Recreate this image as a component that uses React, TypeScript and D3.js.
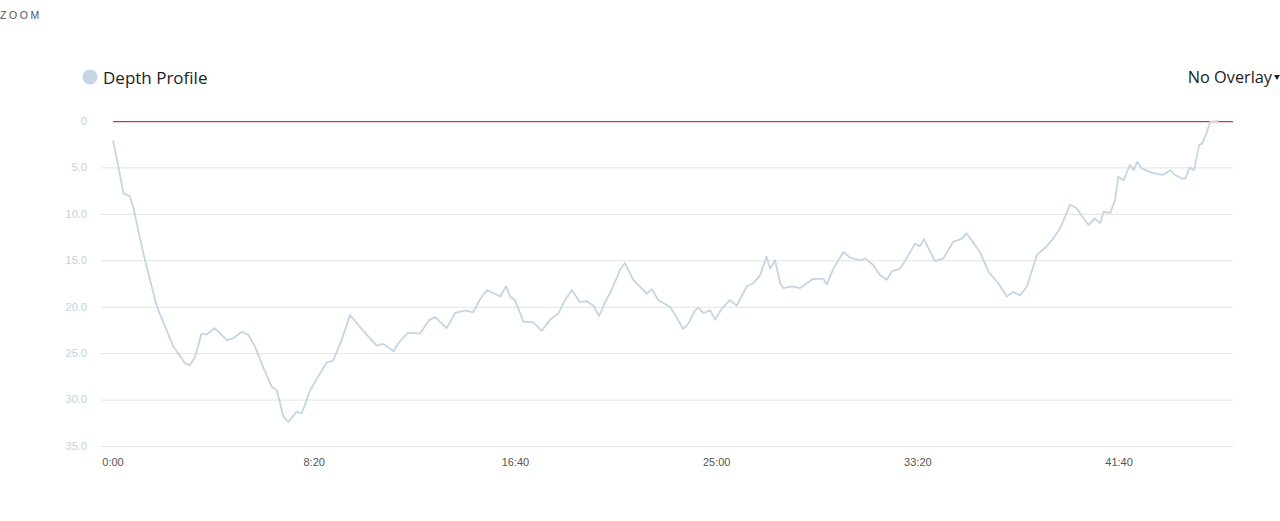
import React from "react";
import * as d3 from "d3";

// dive time in seconds
const times: number[] = [
  0, 11, 26, 42, 50, 75, 109, 150, 179, 191, 204, 220, 233, 253, 283, 299, 320, 336, 353, 373,
  394, 407, 423, 436, 456, 469, 490, 510, 531, 547, 568, 589, 622, 655, 672, 697, 713, 734, 763, 784,
  800, 829, 850, 875, 895, 912, 929, 962, 977, 987, 999, 1020, 1045, 1065, 1086, 1107, 1123, 1140, 1160, 1177,
  1194, 1208, 1223, 1239, 1260, 1272, 1293, 1326, 1339, 1355, 1384, 1401, 1417, 1430, 1446, 1455, 1467, 1484, 1496, 1513,
  1533, 1550, 1575, 1591, 1608, 1624, 1633, 1645, 1658, 1666, 1687, 1707, 1740, 1765, 1774, 1790, 1815, 1831, 1856, 1869,
  1889, 1906, 1923, 1935, 1956, 1976, 1993, 2005, 2015, 2026, 2043, 2063, 2088, 2109, 2121, 2138, 2155, 2175, 2200, 2221,
  2237, 2254, 2271, 2296, 2320, 2337, 2353, 2366, 2378, 2395, 2407, 2424, 2440, 2453, 2461, 2478, 2490, 2498, 2511, 2527,
  2536, 2545, 2556, 2577, 2594, 2610, 2627, 2639, 2656, 2664, 2676, 2686, 2699, 2707, 2718, 2726, 2747,
];

// depth in metres
const depths: number[] = [
  2.1, 4.4, 7.8, 8.1, 9.2, 14.2, 20.0, 24.3, 26.1, 26.3, 25.4, 22.9, 23.0, 22.3, 23.6, 23.4, 22.7, 23.0, 24.3, 26.5,
  28.6, 29.0, 31.8, 32.4, 31.3, 31.5, 29.0, 27.5, 26.0, 25.8, 23.6, 20.9, 22.6, 24.2, 24.0, 24.8, 23.7, 22.8, 22.9, 21.5,
  21.1, 22.3, 20.7, 20.4, 20.6, 19.2, 18.2, 18.9, 17.8, 18.9, 19.3, 21.6, 21.7, 22.6, 21.4, 20.7, 19.3, 18.2, 19.5, 19.4,
  19.9, 21.0, 19.5, 18.2, 16.0, 15.3, 17.1, 18.6, 18.1, 19.3, 20.0, 21.2, 22.4, 21.8, 20.4, 20.1, 20.7, 20.4, 21.4, 20.2,
  19.3, 19.9, 17.8, 17.5, 16.6, 14.6, 15.9, 15.0, 17.5, 18.0, 17.8, 18.0, 17.0, 17.0, 17.6, 15.9, 14.1, 14.7, 15.0, 14.8,
  15.5, 16.6, 17.1, 16.2, 15.9, 14.5, 13.2, 13.5, 12.7, 13.7, 15.1, 14.8, 13.0, 12.7, 12.1, 13.1, 14.2, 16.2, 17.5, 18.9,
  18.4, 18.8, 17.8, 14.4, 13.5, 12.6, 11.6, 10.3, 9.0, 9.4, 10.2, 11.2, 10.5, 11.0, 9.8, 9.9, 8.5, 6.0, 6.4, 4.7,
  5.3, 4.4, 5.1, 5.5, 5.7, 5.8, 5.3, 5.8, 6.2, 6.2, 5.0, 5.3, 2.6, 2.4, 1.2, 0.1, 0,
];

const yTicks: number[] = [0, 5, 10, 15, 20, 25, 30, 35];
const xTicks: number[] = [0, 500, 1000, 1500, 2000, 2500];
const timeMax = 2783;
const depthMax = 35;

const seriesName = "Depth Profile";
const overlayLabel = "No Overlay";

function fmtTime(s: number): string {
  const m = Math.floor(s / 60);
  const sec = s % 60;
  return `${m}:${sec < 10 ? "0" : ""}${sec}`;
}

export default function App() {
  const W = 1280;
  const H = 521;
  const left = 113;
  const right = 1233;
  const top = 121;
  const bottom = 446;
  const gridLeft = 101;

  const x = d3.scaleLinear().domain([0, timeMax]).range([left, right]);
  const y = d3.scaleLinear().domain([0, depthMax]).range([top, bottom]);

  const data = times.map((t, i) => ({ t, d: depths[i] }));
  const line = d3
    .line<{ t: number; d: number }>()
    .x((p) => x(p.t))
    .y((p) => y(p.d));

  const lineColor = "#c6d5e3";

  return (
    <svg
      width={W}
      height={H}
      style={{ position: "absolute", left: 0, top: 0, background: "#fff" }}
    >
      <text
        x={0}
        y={19}
        fontFamily="'Liberation Sans', Arial, sans-serif"
        fontSize={10.5}
        letterSpacing={2.6}
        fill="#555"
      >
        ZOOM
      </text>

      {/* legend */}
      <circle cx={90} cy={77} r={7.5} fill={lineColor} />
      <text
        x={103}
        y={84}
        fontFamily="'Open Sans', sans-serif"
        fontSize={17}
        fill="#222"
      >
        {seriesName}
      </text>

      <text
        x={1272}
        y={83}
        textAnchor="end"
        fontFamily="'Open Sans', sans-serif"
        fontSize={16.3}
        fill="#222"
      >
        {overlayLabel}
      </text>
      <path d="M1274,75 L1280,75 L1277,80 Z" fill="#222" />

      {/* grid */}
      {yTicks.map((v) =>
        v === 0 ? null : (
          <line
            key={"g" + v}
            x1={gridLeft}
            x2={right}
            y1={y(v) + 0.5}
            y2={y(v) + 0.5}
            stroke="#e3e3e3"
            strokeWidth={1}
          />
        )
      )}
      {yTicks.map((v) => (
        <text
          key={"yl" + v}
          x={87}
          y={y(v)}
          dy="0.35em"
          textAnchor="end"
          fontFamily="'Liberation Sans', Arial, sans-serif"
          fontSize={11}
          fill="#c2d2e0"
        >
          {v === 0 ? "0" : v.toFixed(1)}
        </text>
      ))}
      {xTicks.map((v) => (
        <text
          key={"xl" + v}
          x={x(v)}
          y={466}
          textAnchor="middle"
          fontFamily="'Liberation Sans', Arial, sans-serif"
          fontSize={11}
          fill="#555"
        >
          {fmtTime(v)}
        </text>
      ))}

      {/* surface line */}
      <rect x={left} y={y(0)} width={right - left} height={1.2} fill="#dc2a3f" />

      <path
        d={line(data) || ""}
        fill="none"
        stroke={lineColor}
        strokeWidth={1.8}
        strokeLinejoin="round"
      />
    </svg>
  );
}
